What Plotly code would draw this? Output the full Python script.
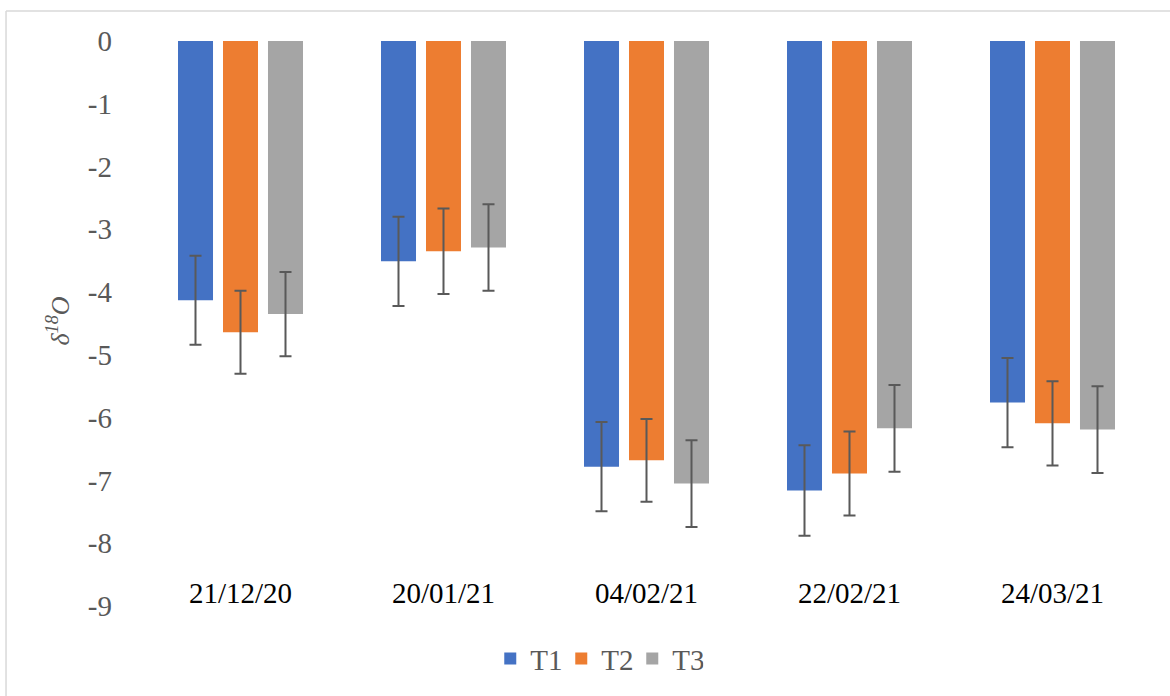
import plotly.graph_objects as go

dates = ["21/12/20", "20/01/21", "04/02/21", "22/02/21", "24/03/21"]
t1 = [-4.13, -3.51, -6.78, -7.16, -5.76]
t2 = [-4.64, -3.35, -6.68, -6.89, -6.09]
t3 = [-4.35, -3.29, -7.05, -6.17, -6.19]
t1_err = [0.71, 0.71, 0.71, 0.72, 0.71]
t2_err = [0.66, 0.68, 0.66, 0.67, 0.67]
t3_err = [0.67, 0.69, 0.69, 0.69, 0.69]
series = [("T1", t1, t1_err, "#4472C4"), ("T2", t2, t2_err, "#ED7D31"), ("T3", t3, t3_err, "#A5A5A5")]

FONT = "Liberation Serif"

fig = go.Figure()
for name, vals, err, col in series:
    fig.add_trace(go.Bar(
        x=dates, y=vals, name=name,
        marker=dict(color=col, line=dict(width=0)),
        error_y=dict(type="data", array=err, visible=True, color="#595959", thickness=2, width=6),
    ))

annotations = [
    dict(x=d, y=-8.8, xref="x", yref="y", text=d, showarrow=False,
         font=dict(family=FONT, size=29, color="#000000"))
    for d in dates
]
annotations.append(dict(
    x=-0.079, y=0.505, xref="paper", yref="paper", xanchor="center", yanchor="middle",
    text="<i>δ<sup>18</sup>O</i>",
    showarrow=False, textangle=-90, font=dict(family=FONT, size=26, color="#595959")))

fig.update_layout(
    width=1170, height=696,
    margin=dict(l=139, r=16, t=41, b=87),
    paper_bgcolor="white", plot_bgcolor="white",
    barmode="group", bargap=0.335, bargroupgap=0.222,
    font=dict(family=FONT, color="#595959"),
    xaxis=dict(showticklabels=False, showgrid=False, zeroline=False, showline=False, ticks=""),
    yaxis=dict(range=[-9, 0], tickmode="array", tickvals=list(range(0, -10, -1)),
               ticktext=[str(v) for v in range(0, -10, -1)],
               showgrid=False, zeroline=False, showline=False, ticks="",
               tickfont=dict(family=FONT, size=29, color="#595959"), ticklabelstandoff=26),
    legend=dict(orientation="h", x=0.451, y=-0.0933, xanchor="center", yanchor="middle",
                font=dict(family=FONT, size=29, color="#595959"), itemwidth=30,
                entrywidth=26, entrywidthmode="pixels", traceorder="normal"),
    annotations=annotations,
    shapes=[
        dict(type="line", xref="paper", yref="paper", x0=-0.131, x1=1.03, y0=1.053, y1=1.053,
             line=dict(color="#D9D9D9", width=1.5)),
        dict(type="line", xref="paper", yref="paper", x0=-0.131, x1=-0.131, y0=1.053, y1=-0.17,
             line=dict(color="#D9D9D9", width=1.5)),
    ],
    showlegend=True,
)

fig.write_html("out.html", config={"displayModeBar": False},
               post_script="document.body.style.margin='0';")
